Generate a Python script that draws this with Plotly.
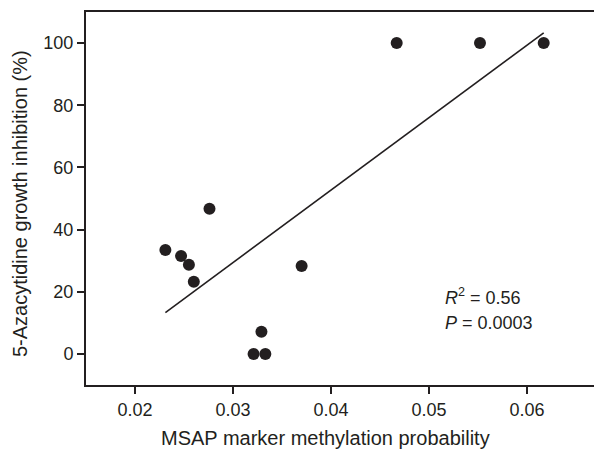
import plotly.graph_objects as go

# Data
methylation_prob = [0.0231, 0.0247, 0.0255, 0.0260, 0.0276, 0.0321, 0.0329, 0.0333, 0.0370, 0.0467, 0.0552, 0.0617]
growth_inhibition = [33.4, 31.5, 28.7, 23.2, 46.7, 0.0, 7.1, 0.0, 28.3, 100.0, 100.0, 100.0]

fit_x = [0.0231, 0.0617]
fit_y = [13.3, 103.3]

x_ticks = [0.02, 0.03, 0.04, 0.05, 0.06]
y_ticks = [0, 20, 40, 60, 80, 100]

x_title = "MSAP marker methylation probability"
y_title = "5-Azacytidine growth inhibition (%)"

txt_color = "#231f20"
font_family = "Liberation Sans, Arial, sans-serif"

fig = go.Figure()
fig.add_trace(go.Scatter(x=fit_x, y=fit_y, mode="lines",
                         line=dict(color="#231f20", width=1.6), showlegend=False))
fig.add_trace(go.Scatter(x=methylation_prob, y=growth_inhibition, mode="markers",
                         marker=dict(color="#231f20", size=12, line=dict(width=0)),
                         showlegend=False))

fig.add_annotation(xref="x", yref="y", x=0.0514, y=18.6, xanchor="left", yanchor="middle",
                   text="<i>R</i><sup>2</sup> = 0.56", showarrow=False,
                   font=dict(size=18, color=txt_color, family=font_family))
fig.add_annotation(xref="x", yref="y", x=0.0514, y=10.0, xanchor="left", yanchor="middle",
                   text="<i>P</i> = 0.0003", showarrow=False,
                   font=dict(size=18, color=txt_color, family=font_family))

# axis titles as annotations (positioned like the reference)
fig.add_annotation(xref="paper", yref="paper", x=0.465, y=0, yshift=-53,
                   xanchor="center", yanchor="middle", text=x_title, showarrow=False,
                   font=dict(size=20, color=txt_color, family=font_family))
fig.add_annotation(xref="paper", yref="paper", x=0, xshift=-66, y=0.485,
                   xanchor="center", yanchor="middle", text=y_title, textangle=-90,
                   showarrow=False,
                   font=dict(size=20, color=txt_color, family=font_family))

fig.update_layout(
    width=594, height=444,
    margin=dict(l=78, r=0, t=4, b=67),
    plot_bgcolor="white", paper_bgcolor="white",
    font=dict(family=font_family, color=txt_color, size=18),
    xaxis=dict(range=[0.015, 0.06765], tickvals=x_ticks, ticktext=[f"{v:.2f}" for v in x_ticks],
               showgrid=False, zeroline=False, showline=True, linecolor="#231f20", linewidth=2,
               mirror=True, ticks="outside", ticklen=7, tickwidth=1.5, tickcolor="#231f20",
               tickfont=dict(size=18), automargin=False),
    yaxis=dict(range=[-10, 110], tickvals=y_ticks,
               showgrid=False, zeroline=False, showline=True, linecolor="#231f20", linewidth=2,
               mirror=False, ticks="outside", ticklen=7, tickwidth=1.5, tickcolor="#231f20",
               tickfont=dict(size=18), automargin=False),
)

fig.write_html("out.html")
